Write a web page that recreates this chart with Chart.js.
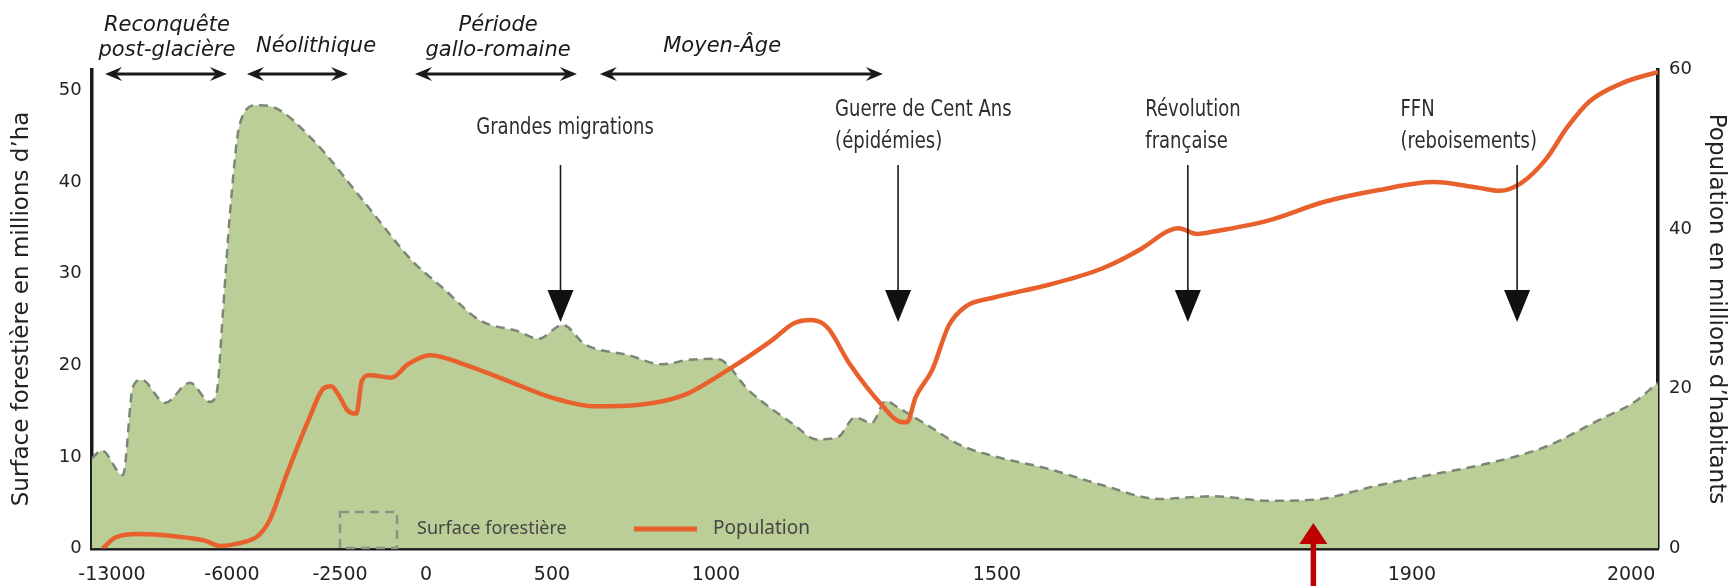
<!DOCTYPE html>
<html><head><meta charset="utf-8">
<script src="https://cdn.jsdelivr.net/npm/chart.js@4.4.1/dist/chart.umd.min.js"></script>
<style>html,body{margin:0;padding:0;background:#fff;}#wrap{width:1730px;height:586px;position:relative;}</style>
</head><body><div id="wrap"><canvas id="c"></canvas></div>
<script>
// ---------- DATA ----------
const TICK_YEARS = [-13000, -6000, -2500, 0, 500, 1000, 1500, 1900, 2000];
const LEFT_TICKS = [0, 10, 20, 30, 40, 50];
const RIGHT_TICKS = [0, 20, 40, 60];

const FOREST_YEARS = [-14200, -13600, -12360, -11780, -11270, -9910, -8450, -7290, -6890, -6530, -6115, -5743, -5200, -4674, -3376, -1833, -379, 0, 60, 214, 367, 446, 533, 600, 734, 835, 919, 1002, 1061, 1139, 1179, 1218, 1247, 1277, 1302, 1326, 1375, 1434, 1493, 1549, 1602, 1656, 1709, 1762, 1804, 1868, 1910, 1935, 1961, 1986, 2001, 2012];
const FOREST_VALUES = [9.8, 10.7, 8.0, 17.6, 18.4, 15.9, 18.1, 16.0, 17.0, 25.7, 36.6, 46.4, 48.4, 48.2, 44.6, 38.0, 31.3, 30.0, 28.6, 24.9, 23.7, 22.9, 24.4, 22.3, 21.1, 20.1, 20.6, 20.7, 17.1, 13.5, 11.9, 12.2, 14.3, 13.7, 16.1, 15.3, 13.5, 11.3, 10.1, 8.7, 6.9, 5.4, 5.7, 5.2, 5.3, 6.9, 8.1, 9.3, 11.1, 14.1, 15.9, 18.1];

const POP_YEARS = [-13550, -12775, -11490, -9236, -7628, -6663, -5832, -5117, -4760, -4223, -3508, -3043, -2793, -2543, -2282, -2025, -1865, -1640, -998, -517, 17, 148, 324, 499, 633, 768, 902, 1022, 1100, 1139, 1169, 1198, 1238, 1297, 1326, 1340, 1355, 1385, 1414, 1444, 1493, 1549, 1602, 1640, 1664, 1675, 1693, 1709, 1762, 1815, 1868, 1910, 1930, 1940, 1950, 1961, 1971, 1981, 1996, 2012];
const POP_VALUES = [0, 1.4, 1.8, 1.5, 1.0, 0.3, 0.6, 1.7, 3.7, 9.3, 16.2, 20.0, 20.3, 19.2, 17.3, 16.9, 21.0, 21.7, 21.4, 23.1, 24.2, 23.1, 21.0, 18.9, 17.8, 18.0, 19.2, 22.4, 26.1, 28.2, 28.6, 27.7, 23.1, 17.8, 15.9, 15.8, 18.9, 22.4, 27.9, 30.3, 31.4, 33.0, 35.1, 37.6, 39.7, 40.1, 39.4, 39.7, 41.1, 43.4, 44.9, 45.9, 45.2, 44.8, 45.8, 48.7, 52.8, 56.0, 58.3, 59.7];

const PERIOD_LABELS = [['Reconquête', 'post-glacière'], ['Néolithique'], ['Période', 'gallo-romaine'], ['Moyen-Âge']];
const PERIOD_FROM = [-13408, -5514, -320, 646];
const PERIOD_TO = [-6292, -2267, 576, 1297];
const PERIOD_TEXT_AT = [-9792, -3278, 286, 1011];

const EVENT_LABELS = [['Grandes migrations'], ['Guerre de Cent Ans', '(épidémies)'], ['Révolution', 'française'], ['FFN', '(reboisements)']];
const EVENT_AT = [526, 1324, 1684, 1948];
const EVENT_TEXT_AT = [540, 1212, 1643, 1889];
const RED_ARROW_AT = 1805;

const SERIES_NAMES = ['Surface forestière', 'Population'];

// ---------- helpers ----------
function fontAvailable(f) {
  const c = document.createElement('canvas').getContext('2d');
  const s = 'Guerre de Cent Ans (épidémies) migrations';
  c.font = '40px "' + f + '", monospace'; const a = c.measureText(s).width;
  c.font = '40px "' + f + '", serif'; const b = c.measureText(s).width;
  return Math.abs(a - b) < 0.01;
}
let NARROW = '23px "DejaVu Sans"', NARROW_SCALE = 0.78;
if (fontAvailable('Liberation Sans Narrow')) { NARROW = '24px "Liberation Sans Narrow"'; NARROW_SCALE = 1; }
else if (fontAvailable('DejaVu Sans Condensed')) { NARROW = '23px "DejaVu Sans Condensed"'; NARROW_SCALE = 0.87; }

const X_BREAKS = [[-14200, 0], [-13000, 0.0130], [-6000, 0.0896], [-2500, 0.1586], [0, 0.2135], [500, 0.2939], [1000, 0.3986], [1500, 0.5780], [1900, 0.8429], [2000, 0.9828], [2012, 1]];

class BrokenYearScale extends Chart.LinearScale {
  static id = 'brokenYear';
  static defaults = {};
  _map(v, from, to) {
    const b = X_BREAKS; let i = 1;
    while (i < b.length - 1 && v > b[i][from]) i++;
    const p = b[i - 1], q = b[i];
    return p[to] + (v - p[from]) * (q[to] - p[to]) / (q[from] - p[from]);
  }
  getPixelForValue(v) { return this.getPixelForDecimal(this._map(v, 0, 1)); }
  getValueForPixel(px) { return this._map(this.getDecimalForPixel(px), 1, 0); }
  buildTicks() { return TICK_YEARS.map(v => ({ value: v })); }
}
Chart.register(BrokenYearScale);

// ---------- overlay plugin ----------
function dblArrow(ctx, x1, x2, y) {
  const L = 17, W = 7, N = 11;
  ctx.beginPath(); ctx.moveTo(x1 + N, y); ctx.lineTo(x2 - N, y); ctx.lineWidth = 2.8; ctx.stroke();
  ctx.beginPath(); ctx.moveTo(x1, y); ctx.lineTo(x1 + L, y - W); ctx.lineTo(x1 + N, y); ctx.lineTo(x1 + L, y + W); ctx.closePath(); ctx.fill();
  ctx.beginPath(); ctx.moveTo(x2, y); ctx.lineTo(x2 - L, y - W); ctx.lineTo(x2 - N, y); ctx.lineTo(x2 - L, y + W); ctx.closePath(); ctx.fill();
}
const overlay = {
  id: 'overlay',
  afterDraw(chart) {
    const ctx = chart.ctx, xs = chart.scales.x;
    ctx.save();
    ctx.fillStyle = '#1a1a1a'; ctx.strokeStyle = '#1a1a1a';
    ctx.font = 'italic 21px "DejaVu Sans"'; ctx.textAlign = 'center'; ctx.textBaseline = 'middle';
    PERIOD_LABELS.forEach((lines, i) => {
      const tx = xs.getPixelForValue(PERIOD_TEXT_AT[i]);
      const ys = lines.length === 2 ? [26, 51] : [47];
      lines.forEach((t, k) => ctx.fillText(t, tx, ys[k]));
      dblArrow(ctx, xs.getPixelForValue(PERIOD_FROM[i]), xs.getPixelForValue(PERIOD_TO[i]), 74);
    });
    EVENT_LABELS.forEach((lines, i) => {
      const ax = xs.getPixelForValue(EVENT_AT[i]);
      const tx = xs.getPixelForValue(EVENT_TEXT_AT[i]);
      ctx.fillStyle = '#2e2e2e'; ctx.font = NARROW; ctx.textBaseline = 'middle';
      const ys = lines.length === 2 ? [110, 142] : [128];
      lines.forEach((t, k) => {
        ctx.save(); ctx.translate(tx, ys[k]); ctx.scale(NARROW_SCALE, 1);
        ctx.textAlign = lines.length === 2 ? 'left' : 'center';
        ctx.fillText(t, 0, 0); ctx.restore();
      });
      ctx.strokeStyle = '#1a1a1a'; ctx.fillStyle = '#111'; ctx.lineWidth = 1.6;
      const top = 165, triTop = 290, tip = 322;
      ctx.beginPath(); ctx.moveTo(ax, top); ctx.lineTo(ax, triTop + 2); ctx.stroke();
      ctx.beginPath(); ctx.moveTo(ax - 13, triTop); ctx.lineTo(ax + 13, triTop); ctx.lineTo(ax, tip); ctx.closePath(); ctx.fill();
    });
    const rx = xs.getPixelForValue(RED_ARROW_AT);
    ctx.fillStyle = '#c00000'; ctx.strokeStyle = '#c00000'; ctx.lineWidth = 5.5;
    ctx.beginPath(); ctx.moveTo(rx, 586); ctx.lineTo(rx, 540); ctx.stroke();
    ctx.beginPath(); ctx.moveTo(rx - 14, 544); ctx.lineTo(rx + 14, 544); ctx.lineTo(rx, 523); ctx.closePath(); ctx.fill();
    ctx.setLineDash([9, 6]); ctx.strokeStyle = '#8a9383'; ctx.lineWidth = 2.5;
    ctx.strokeRect(340, 512, 57, 36); ctx.setLineDash([]);
    ctx.fillStyle = '#454545'; ctx.font = '18px "Noto Sans"'; ctx.textAlign = 'left'; ctx.textBaseline = 'middle';
    ctx.fillText(SERIES_NAMES[0], 417, 529);
    ctx.strokeStyle = '#e8612c'; ctx.lineWidth = 5;
    ctx.beginPath(); ctx.moveTo(634, 529); ctx.lineTo(697, 529); ctx.stroke();
    ctx.font = '19px "Noto Sans"';
    ctx.fillText(SERIES_NAMES[1], 713, 529);
    ctx.restore();
  }
};

// ---------- chart ----------
const xTickFont = { family: '"DejaVu Sans"', size: 19 };
const yTickFont = { family: '"DejaVu Sans"', size: 18 };
const titleFont = { family: '"DejaVu Sans"', size: 23 };
new Chart(document.getElementById('c'), {
  type: 'line',
  data: {
    datasets: [
      {
        label: SERIES_NAMES[1], yAxisID: 'y1', order: 0,
        data: POP_YEARS.map((x, i) => ({ x, y: POP_VALUES[i] })),
        borderColor: '#e8612c', borderWidth: 4.5, pointRadius: 0, fill: false,
        cubicInterpolationMode: 'monotone'
      },
      {
        label: SERIES_NAMES[0], yAxisID: 'y', order: 1,
        data: FOREST_YEARS.map((x, i) => ({ x, y: FOREST_VALUES[i] })),
        borderColor: '#7c8677', borderWidth: 2.5, borderDash: [9, 6], pointRadius: 0,
        fill: 'origin', backgroundColor: '#bbce97', cubicInterpolationMode: 'monotone'
      }
    ]
  },
  options: {
    responsive: true, maintainAspectRatio: false, animation: false,
    layout: { padding: { top: 69.5, left: 0, right: 0, bottom: 0 } },
    plugins: { legend: { display: false }, tooltip: { enabled: false } },
    scales: {
      x: {
        type: 'brokenYear', position: 'bottom', min: -14200, max: 2012,
        grid: { display: false, drawTicks: false },
        border: { display: true, color: '#1a1a1a', width: 3.5 },
        ticks: { autoSkip: false, maxRotation: 0, padding: 15, color: '#222', font: xTickFont, callback: v => String(v) },
        afterFit: s => { s.height = 586 - 548.4; }
      },
      y: {
        type: 'linear', position: 'left', min: 0, max: 52.3,
        afterBuildTicks: s => { s.ticks = LEFT_TICKS.map(v => ({ value: v })); },
        grid: { display: false, drawTicks: false },
        border: { display: true, color: '#1a1a1a', width: 3.5 },
        ticks: { padding: 10, color: '#222', font: yTickFont },
        title: { display: true, text: 'Surface forestière en millions d’ha', color: '#222', font: titleFont, padding: { top: 8, bottom: 0 } },
        afterFit: s => { s.width = 91.6; }
      },
      y1: {
        type: 'linear', position: 'right', min: 0, max: 60,
        afterBuildTicks: s => { s.ticks = RIGHT_TICKS.map(v => ({ value: v })); },
        grid: { display: false, drawTicks: false },
        border: { display: true, color: '#1a1a1a', width: 3.5 },
        ticks: { padding: 11, color: '#222', font: yTickFont },
        title: { display: true, text: 'Population en millions d’habitants', color: '#222', font: titleFont, padding: { top: 0, bottom: 0 } },
        afterFit: s => { s.width = 1730 - 1658; }
      }
    }
  },
  plugins: [overlay]
});
</script></body></html>
